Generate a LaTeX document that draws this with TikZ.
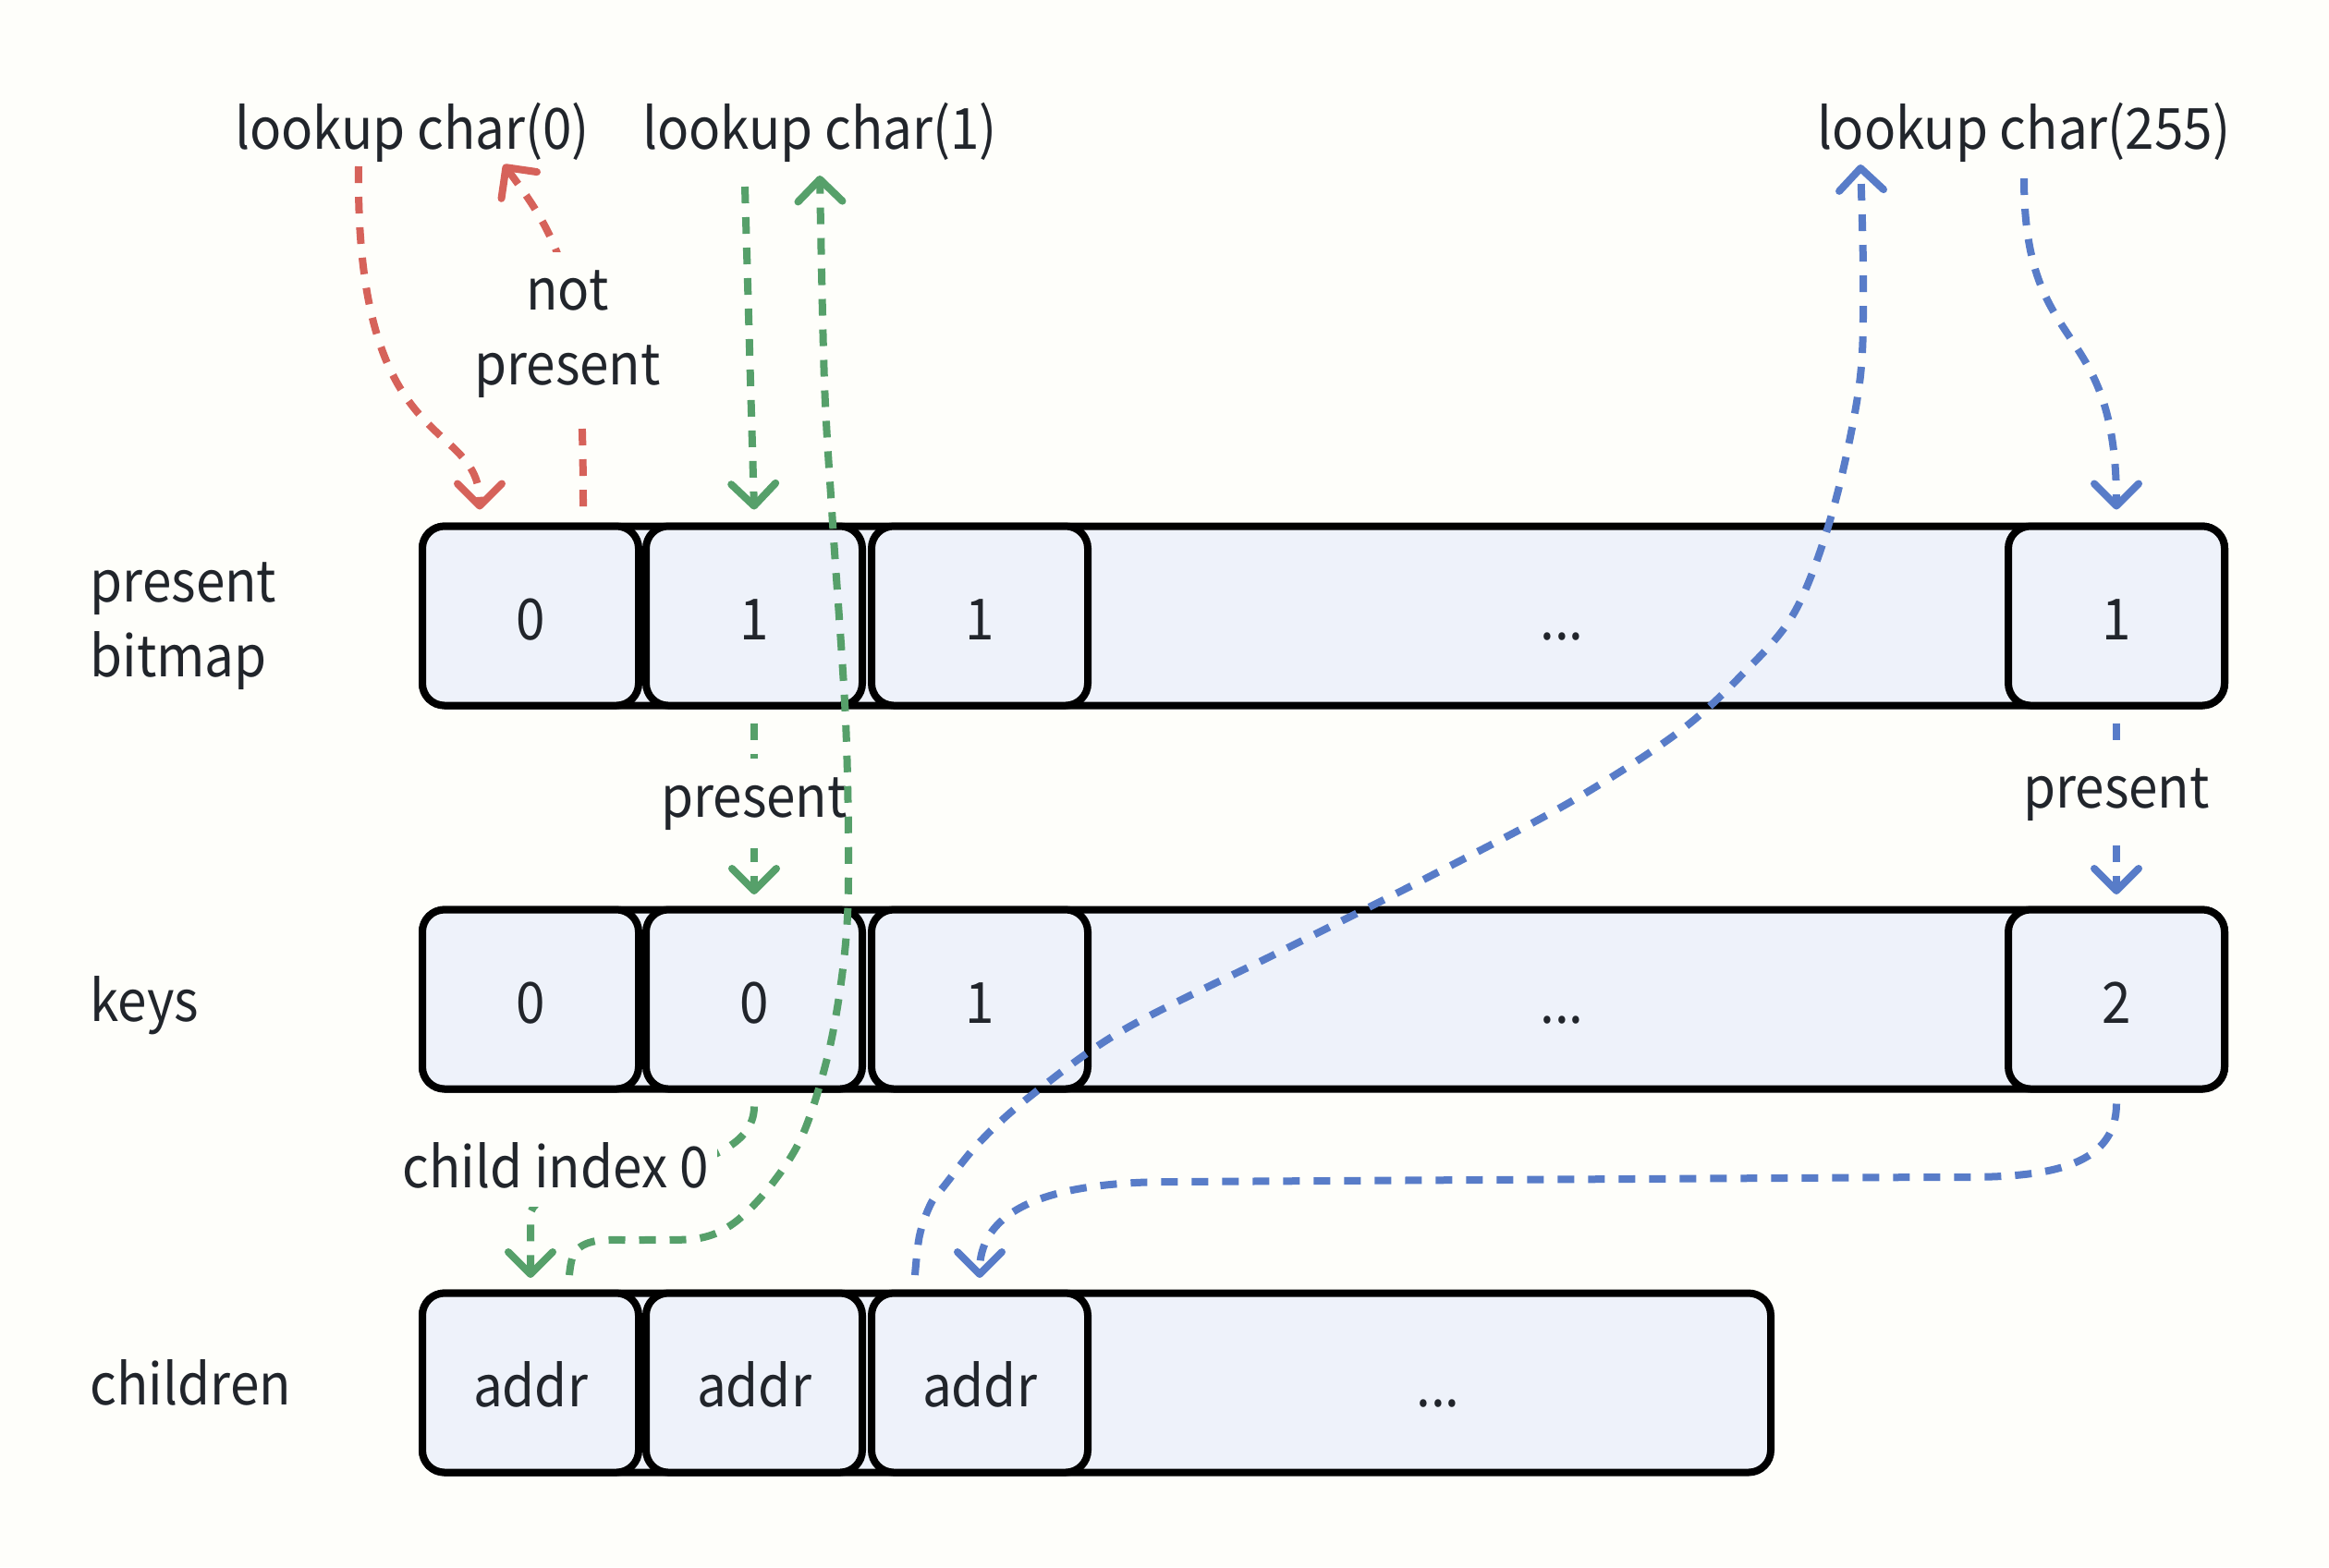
\documentclass[tikz,border=0pt]{standalone}
\usepackage{fontspec}
\setmainfont[FakeStretch=0.92]{Noto Sans CJK SC}
\usetikzlibrary{arrows.meta}
\definecolor{bgcol}{RGB}{254,254,250}
\definecolor{cellcol}{RGB}{238,242,250}
\definecolor{inkcol}{RGB}{33,37,43}
\definecolor{misscol}{RGB}{214,98,90}
\definecolor{onecol}{RGB}{86,160,106}
\definecolor{lastcol}{RGB}{88,124,200}
\tikzset{
	frame/.style={draw=black, fill=cellcol, line width=0.8mm, rounded corners=2.4mm, minimum height=1.94cm, inner sep=0pt, text height=5.1mm, text depth=0pt},
	cell/.style={frame, minimum width=2.34cm},
	flow/.style={line width=0.8mm, dash pattern=on 1.8mm off 1.5mm},
	tag/.style={fill=bgcol, text=inkcol, inner xsep=1mm, inner ysep=2mm, align=center},
	lbl/.style={anchor=west, inner sep=0pt, align=left}
}
\begin{document}
\begin{tikzpicture}[>={Straight Barb[length=2.4mm,width=4.8mm,round]}, font=\fontsize{17.5}{23}\selectfont, text=inkcol, line join=round]
	\fill[bgcol] (0,0) rectangle (25.2,-16.96);
	% the three arrays
	\node[frame, minimum width=19.50cm] (bitmap) at (14.32,-6.665) {};
	\node[frame, minimum width=19.50cm] (keys) at (14.32,-10.815) {};
	\node[frame, minimum width=14.59cm] (children) at (11.865,-14.965) {};
	\node[cell] (b0) at (5.74,-6.665) {0};
	\node[cell] (b1) at (8.16,-6.665) {1};
	\node[cell] (b2) at (10.60,-6.665) {1};
	\node[cell] (bn) at (22.90,-6.665) {1};
	\node[text height=5.1mm, text depth=0pt] (bdots) at (16.90,-6.665) {...};
	\node[cell] (k0) at (5.74,-10.815) {0};
	\node[cell] (k1) at (8.16,-10.815) {0};
	\node[cell] (k2) at (10.60,-10.815) {1};
	\node[cell] (kn) at (22.90,-10.815) {2};
	\node[text height=5.1mm, text depth=0pt] (kdots) at (16.90,-10.815) {...};
	\node[cell] (a0) at (5.74,-14.965) {addr};
	\node[cell] (a1) at (8.16,-14.965) {addr};
	\node[cell] (a2) at (10.60,-14.965) {addr};
	\node[text height=5.1mm, text depth=0pt] (adots) at (15.56,-14.965) {...};
	% names of the arrays
	\node[lbl] (lbitmap) at (0.97,-6.78) {present\\bitmap};
	\node[lbl, anchor=base west] (lkeys) at (0.97,-11.05) {keys};
	\node[lbl, anchor=base west] (lchildren) at (0.97,-15.20) {children};
	% lookups
	\node[anchor=base] (c0) at (4.46,-1.61) {lookup char(0)};
	\node[anchor=base] (c1) at (8.87,-1.61) {lookup char(1)};
	\node[anchor=base] (c255) at (21.90,-1.61) {lookup char(255)};
	% char(0)
	\draw[flow, misscol, ->] ([xshift=-5.8mm,yshift=-1.9mm]c0.base) .. controls +(-0.04,-3.2) and +(0,1.02) .. ([xshift=-5.5mm,yshift=1.4mm]b0.north);
	\draw[flow, misscol, ->] ([xshift=5.7mm,yshift=1.75mm]b0.north) .. controls +(0,2.4) and +(0.65,-0.87) .. ([xshift=9.9mm,yshift=-1.7mm]c0.base);
	\node[tag] (np) at (6.14,-3.62) {not\\present};
	% char(1)
	\draw[flow, onecol, ->] ([xshift=-8.1mm,yshift=-4.1mm]c1.base) -- ([yshift=1.4mm]b1.north);
	\draw[flow, onecol, ->] ([yshift=-1.5mm]b1.south) -- node[tag, pos=0.47] (p1) {present} ([yshift=1.25mm]k1.north);
	\draw[flow, onecol, ->] ([yshift=-1.5mm]k1.south) .. controls +(0,-0.9) and +(0,0.5) .. ([yshift=8mm]a0.north) -- ([yshift=1.25mm]a0.north);
	\node[tag, anchor=base] (cidx) at (6.01,-12.85) {child index 0};
	% char(255)
	\draw[flow, lastcol, ->] ([yshift=-3.2mm]c255.base) .. controls +(0,-1.97) and +(0,2.12) .. ([yshift=1.4mm]bn.north);
	\draw[flow, lastcol, ->] ([yshift=-1.5mm]bn.south) -- node[tag, pos=0.42] (p255) {present} ([yshift=1.25mm]kn.north);
	\draw[flow, lastcol, ->] ([yshift=-1.2mm]kn.south) to[out=-90,in=0] (20.9,-12.74) -- (12.7,-12.79) to[out=180,in=90] ([yshift=1.25mm]a2.north);
	% way back up
	\draw[flow, onecol, ->] plot[smooth, tension=0.55] coordinates {([xshift=4.2mm,yshift=1.55mm]a0.north) (6.22,-13.55) (6.45,-13.43) (6.96,-13.42) (7.57,-13.40) (7.95,-13.23) (8.34,-12.83) (8.69,-12.27) (8.97,-11.37) (9.13,-10.40) (9.18,-9.50) (9.15,-7.80) (9.01,-5.67) (8.92,-4.13) ([yshift=-2.9mm]c1.base)};
	\draw[flow, lastcol, ->] plot[smooth, tension=0.55] coordinates {([xshift=-7mm,yshift=1.55mm]a2.north) (9.95,-13.37) (10.07,-13.03) (10.22,-12.83) (10.60,-12.36) (11.14,-11.87) (12.15,-11.15) (13.87,-10.29) (15.46,-9.49) (16.99,-8.68) (18.14,-7.94) (18.84,-7.31) (19.42,-6.62) (19.83,-5.53) (20.12,-4.15) (20.16,-3.0) ([xshift=-17.7mm,yshift=-1.7mm]c255.base)};
\end{tikzpicture}
\end{document}
